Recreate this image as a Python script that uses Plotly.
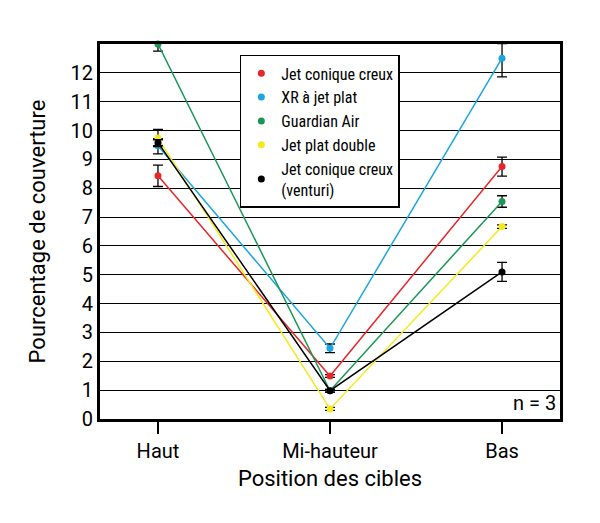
import plotly.graph_objects as go

positions = ["Haut", "Mi-hauteur", "Bas"]
series_names = ["Jet conique creux", "XR à jet plat", "Guardian Air", "Jet plat double",
                "Jet conique creux<br>(venturi)"]
colors = ["#e5262b", "#1ba6df", "#1a9656", "#f4ea1b", "#000000"]

red_vals = [8.43, 1.49, 8.75]
blue_vals = [9.47, 2.45, 12.51]
green_vals = [13.0, 0.98, 7.54]
yellow_vals = [9.74, 0.35, 6.67]
black_vals = [9.58, 0.98, 5.1]

red_err = [0.37, 0.05, 0.33]
blue_err_plus = [0.25, 0.15, 0.5]
blue_err_minus = [0.28, 0.15, 0.65]
green_err = [0.25, 0.05, 0.2]
yellow_err = [0.3, 0.05, 0.06]
black_err = [0.1, 0.05, 0.33]

values = [red_vals, blue_vals, green_vals, yellow_vals, black_vals]
err_plus = [red_err, blue_err_plus, green_err, yellow_err, black_err]
err_minus = [red_err, blue_err_minus, green_err, yellow_err, black_err]

font_main = "Roboto, Liberation Sans, sans-serif"

fig = go.Figure()
for name, col, vals, ep, em in zip(series_names, colors, values, err_plus, err_minus):
    fig.add_trace(go.Scatter(
        x=positions, y=vals, mode="lines+markers",
        line=dict(color=col, width=1.5),
        marker=dict(color=col, size=7),
        error_y=dict(type="data", array=ep, arrayminus=em, symmetric=False,
                     color="black", thickness=1.3, width=5),
        showlegend=False, cliponaxis=False,
    ))
# legend-only entries (dot symbols)
for name, col in zip(series_names, colors):
    fig.add_trace(go.Scatter(
        x=[None], y=[None], mode="markers", name=name,
        marker=dict(color=col, size=7), showlegend=True,
    ))

fig.add_annotation(text="n = 3", xref="paper", yref="paper", x=0.995, y=0.005,
                   xanchor="right", yanchor="bottom", showarrow=False,
                   font=dict(size=20, color="black", family=font_main))

# page body has an 8px default margin; compensate so the plot lands where the reference has it
fig.update_layout(
    width=592, height=515,
    margin=dict(l=92, r=40, t=36, b=104),
    paper_bgcolor="white", plot_bgcolor="white",
    font=dict(family=font_main, color="black"),
    legend=dict(
        x=0.304, y=0.971, xanchor="left", yanchor="top",
        bordercolor="black", borderwidth=1.5, bgcolor="white",
        font=dict(size=16, family="Liberation Sans Narrow, Roboto Condensed, Roboto, sans-serif"),
        itemwidth=30, tracegroupgap=0,
    ),
    xaxis=dict(
        type="category", range=[-0.337, 2.337],
        showline=True, linecolor="black", linewidth=3, mirror=True,
        ticks="outside", ticklen=12, tickwidth=1.5, tickcolor="black",
        tickfont=dict(size=20), showgrid=False,
        title=dict(text="Position des cibles", font=dict(size=22), standoff=9),
    ),
    yaxis=dict(
        range=[0, 13], tickmode="array", tickvals=list(range(0, 13)),
        showline=True, linecolor="black", linewidth=3, mirror=True,
        showgrid=True, gridcolor="black", gridwidth=1.3, zeroline=False,
        ticks="", tickfont=dict(size=20),
        title=dict(text="Pourcentage de couverture", font=dict(size=22), standoff=19),
    ),
)

fig.write_html("out.html")
